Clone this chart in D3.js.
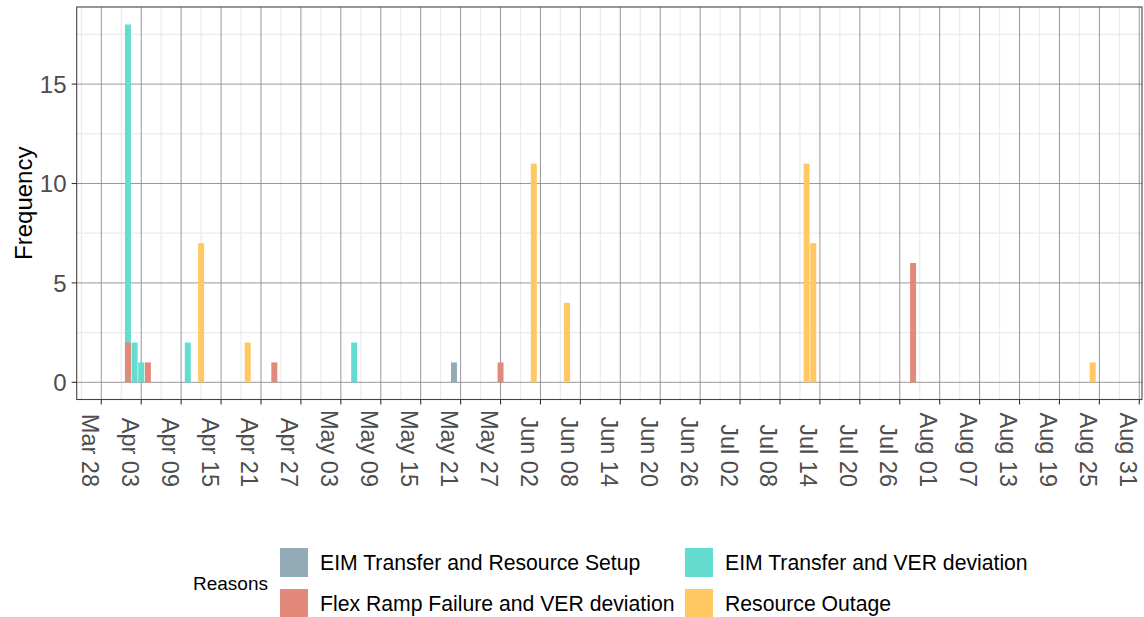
<!DOCTYPE html>
<html>
<head>
<meta charset="utf-8">
<script src="https://cdn.jsdelivr.net/npm/d3@7"></script>
<style>
  html, body { margin: 0; padding: 0; background: #fff; }
  svg { display: block; font-family: "Liberation Sans", Arial, Helvetica, sans-serif; }
</style>
</head>
<body>
<svg id="chart" width="1144" height="617"></svg>
<script>
// ---- data ----
const reasons = [
  "EIM Transfer and Resource Setup",
  "EIM Transfer and VER deviation",
  "Flex Ramp Failure and VER deviation",
  "Resource Outage"
];
const reasonColors = ["#93aab7", "#64ddd0", "#e3897a", "#ffc862"];

const setupDates = ["2021-05-20"];
const setupCounts = [1];
const verDates = ["2021-04-01", "2021-04-02", "2021-04-03", "2021-04-10", "2021-05-05"];
const verCounts = [18, 2, 1, 2, 2];
const flexDates = ["2021-04-01", "2021-04-04", "2021-04-23", "2021-05-27", "2021-07-28"];
const flexCounts = [2, 1, 1, 1, 6];
const outageDates = ["2021-04-12", "2021-04-19", "2021-06-01", "2021-06-06", "2021-07-12", "2021-07-13", "2021-08-24"];
const outageCounts = [7, 2, 11, 4, 11, 7, 1];

const xTickLabels = ["Mar 28", "Apr 03", "Apr 09", "Apr 15", "Apr 21", "Apr 27", "May 03", "May 09",
  "May 15", "May 21", "May 27", "Jun 02", "Jun 08", "Jun 14", "Jun 20", "Jun 26", "Jul 02", "Jul 08",
  "Jul 14", "Jul 20", "Jul 26", "Aug 01", "Aug 07", "Aug 13", "Aug 19", "Aug 25", "Aug 31"];
const yTicks = [0, 5, 10, 15];
const yMinor = [2.5, 7.5, 12.5, 17.5];

// ---- build ----
const parse = d3.utcParse("%Y-%m-%d");
const parseTick = d3.utcParse("%Y %b %d");
const DAY = 86400000;
const series = [
  [setupDates, setupCounts],
  [verDates, verCounts],
  [flexDates, flexCounts],
  [outageDates, outageCounts]
];
const bars = [];
series.forEach(([ds, cs], i) => ds.forEach((d, j) => bars.push({reason: i, date: parse(d), n: cs[j]})));

const tickDates = xTickLabels.map(s => parseTick("2021 " + s));

const svg = d3.select("#chart");
const panel = {left: 76.7, right: 1142, top: 7, bottom: 399.5};

const x = d3.scaleUtc()
  .domain([tickDates[0], tickDates[tickDates.length - 1]])
  .range([101.3, 1139.3]);
const y = d3.scaleLinear().domain([0, 15]).range([382.3, 84.1]);

// minor x breaks: midpoints between majors (and one before the first)
const xMinor = [];
for (let i = -1; i < tickDates.length - 1; i++) {
  const m = new Date(tickDates[0].getTime() + (i * 6 + 3) * DAY);
  const px = x(m);
  if (px > panel.left && px < panel.right) xMinor.push(m);
}

const g = svg.append("g");
g.append("rect").attr("x", panel.left).attr("y", panel.top)
  .attr("width", panel.right - panel.left).attr("height", panel.bottom - panel.top)
  .attr("fill", "#fff");

// minor grid
g.selectAll(".yminor").data(yMinor).join("line")
  .attr("x1", panel.left).attr("x2", panel.right)
  .attr("y1", d => y(d)).attr("y2", d => y(d))
  .attr("stroke", "#ebebeb").attr("stroke-width", 1.2);
g.selectAll(".xminor").data(xMinor).join("line")
  .attr("y1", panel.top).attr("y2", panel.bottom)
  .attr("x1", d => x(d)).attr("x2", d => x(d))
  .attr("stroke", "#ebebeb").attr("stroke-width", 1.2);
// major grid
g.selectAll(".ymajor").data(yTicks).join("line")
  .attr("x1", panel.left).attr("x2", panel.right)
  .attr("y1", d => y(d)).attr("y2", d => y(d))
  .attr("stroke", "#8c8c8c").attr("stroke-width", 0.9);
g.selectAll(".xmajor").data(tickDates).join("line")
  .attr("y1", panel.top).attr("y2", panel.bottom)
  .attr("x1", d => x(d)).attr("x2", d => x(d))
  .attr("stroke", "#8c8c8c").attr("stroke-width", 0.9);

// bars
const halfW = 0.45 * DAY;
g.selectAll(".bar").data(bars).join("rect")
  .attr("x", d => x(new Date(d.date.getTime() - halfW)))
  .attr("width", d => x(new Date(d.date.getTime() + halfW)) - x(new Date(d.date.getTime() - halfW)))
  .attr("y", d => y(d.n))
  .attr("height", d => y(0) - y(d.n))
  .attr("fill", d => reasonColors[d.reason]);

// panel border
g.append("rect").attr("x", panel.left).attr("y", panel.top)
  .attr("width", panel.right - panel.left).attr("height", panel.bottom - panel.top)
  .attr("fill", "none").attr("stroke", "#444").attr("stroke-width", 1.1);

// x axis ticks
const xAxis = g.append("g");
xAxis.selectAll("line").data(tickDates).join("line")
  .attr("x1", d => x(d)).attr("x2", d => x(d))
  .attr("y1", panel.bottom).attr("y2", panel.bottom + 5)
  .attr("stroke", "#333").attr("stroke-width", 1.1);
xAxis.selectAll("text").data(tickDates).join("text")
  .attr("transform", d => `translate(${x(d) - 19.5},487) rotate(90)`)
  .attr("text-anchor", "end")
  .attr("font-size", 23.5)
  .attr("fill", "#4d4d4d")
  .text((d, i) => xTickLabels[i]);

// y axis ticks
const yAxis = g.append("g");
yAxis.selectAll("line").data(yTicks).join("line")
  .attr("x1", panel.left - 5).attr("x2", panel.left)
  .attr("y1", d => y(d)).attr("y2", d => y(d))
  .attr("stroke", "#333").attr("stroke-width", 1.1);
yAxis.selectAll("text").data(yTicks).join("text")
  .attr("x", 66.5).attr("y", d => y(d))
  .attr("dy", "0.36em")
  .attr("text-anchor", "end")
  .attr("font-size", 24)
  .attr("fill", "#4d4d4d")
  .text(d => d);

// y title
svg.append("text")
  .attr("transform", `translate(32,${(panel.top + panel.bottom) / 2}) rotate(-90)`)
  .attr("text-anchor", "middle")
  .attr("font-size", 24)
  .attr("fill", "#000")
  .text("Frequency");

// legend
const leg = svg.append("g");
leg.append("text").attr("x", 193).attr("y", 590)
  .attr("font-size", 19).attr("fill", "#000").text("Reasons");
const legPos = [
  {kx: 280, ky: 548},
  {kx: 685, ky: 548},
  {kx: 280, ky: 589},
  {kx: 685, ky: 589}
];
reasons.forEach((r, i) => {
  const p = legPos[i];
  leg.append("rect").attr("x", p.kx).attr("y", p.ky)
    .attr("width", 28).attr("height", 29)
    .attr("fill", reasonColors[i]);
  leg.append("text").attr("x", p.kx + 40).attr("y", p.ky + 14.5)
    .attr("dy", "0.36em")
    .attr("font-size", 21.2).attr("fill", "#000").text(r);
});
</script>
</body>
</html>
